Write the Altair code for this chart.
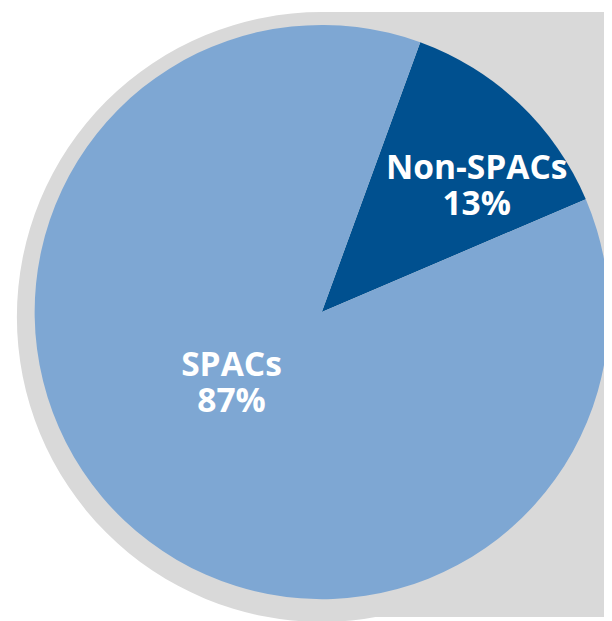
import altair as alt
import pandas as pd

categories = ["Non-SPACs", "SPACs"]
shares = [13, 87]
pct_labels = ["13%", "87%"]

df = pd.DataFrame({
    "category": categories,
    "share": shares,
    "order": list(range(len(categories))),
    "label": [[c, p] for c, p in zip(categories, pct_labels)],
})

W, H = 604, 613
CX, CY, R = 318, 304, 291
START = 0.350
TWO_PI = 6.283185307

colors = ["#00508f", "#7ea7d3"]

base = alt.Chart(df)

# grey shadow backdrop: rounded left side + square right side
shadow_circle = alt.Chart(pd.DataFrame({"k": [1]})).mark_arc(
    radius=309, color="#d9d9d9", theta=0, theta2=TWO_PI
).encode(x=alt.value(CX), y=alt.value(309))

shadow_rect = alt.Chart(pd.DataFrame({"k": [1]})).mark_rect(color="#d9d9d9").encode(
    x=alt.value(CX), x2=alt.value(W), y=alt.value(0), y2=alt.value(H)
)

pie = base.mark_arc(radius=R, stroke=None).encode(
    theta=alt.Theta("share:Q", stack=True,
                    scale=alt.Scale(range=[START, START + TWO_PI])),
    color=alt.Color("category:N", scale=alt.Scale(domain=categories, range=colors),
                    legend=None),
    order=alt.Order("order:Q"),
    x=alt.value(CX), y=alt.value(CY),
)

text_style = dict(font="Open Sans", fontWeight="bold", fontSize=34,
                  color="white", align="center", baseline="alphabetic",
                  lineHeight=36.5)

lbl_non = base.transform_filter(alt.datum.category == "Non-SPACs").mark_text(
    **text_style).encode(text="label", x=alt.value(475), y=alt.value(169))
lbl_spac = base.transform_filter(alt.datum.category == "SPACs").mark_text(
    **text_style).encode(text="label", x=alt.value(226.5), y=alt.value(369))

chart = alt.layer(shadow_circle, shadow_rect, pie, lbl_non, lbl_spac).properties(
    width=W, height=H, padding=0, autosize="none", background="white"
).configure_view(stroke=None)

chart.save("out.html", embed_options={"renderer": "svg", "actions": False})
